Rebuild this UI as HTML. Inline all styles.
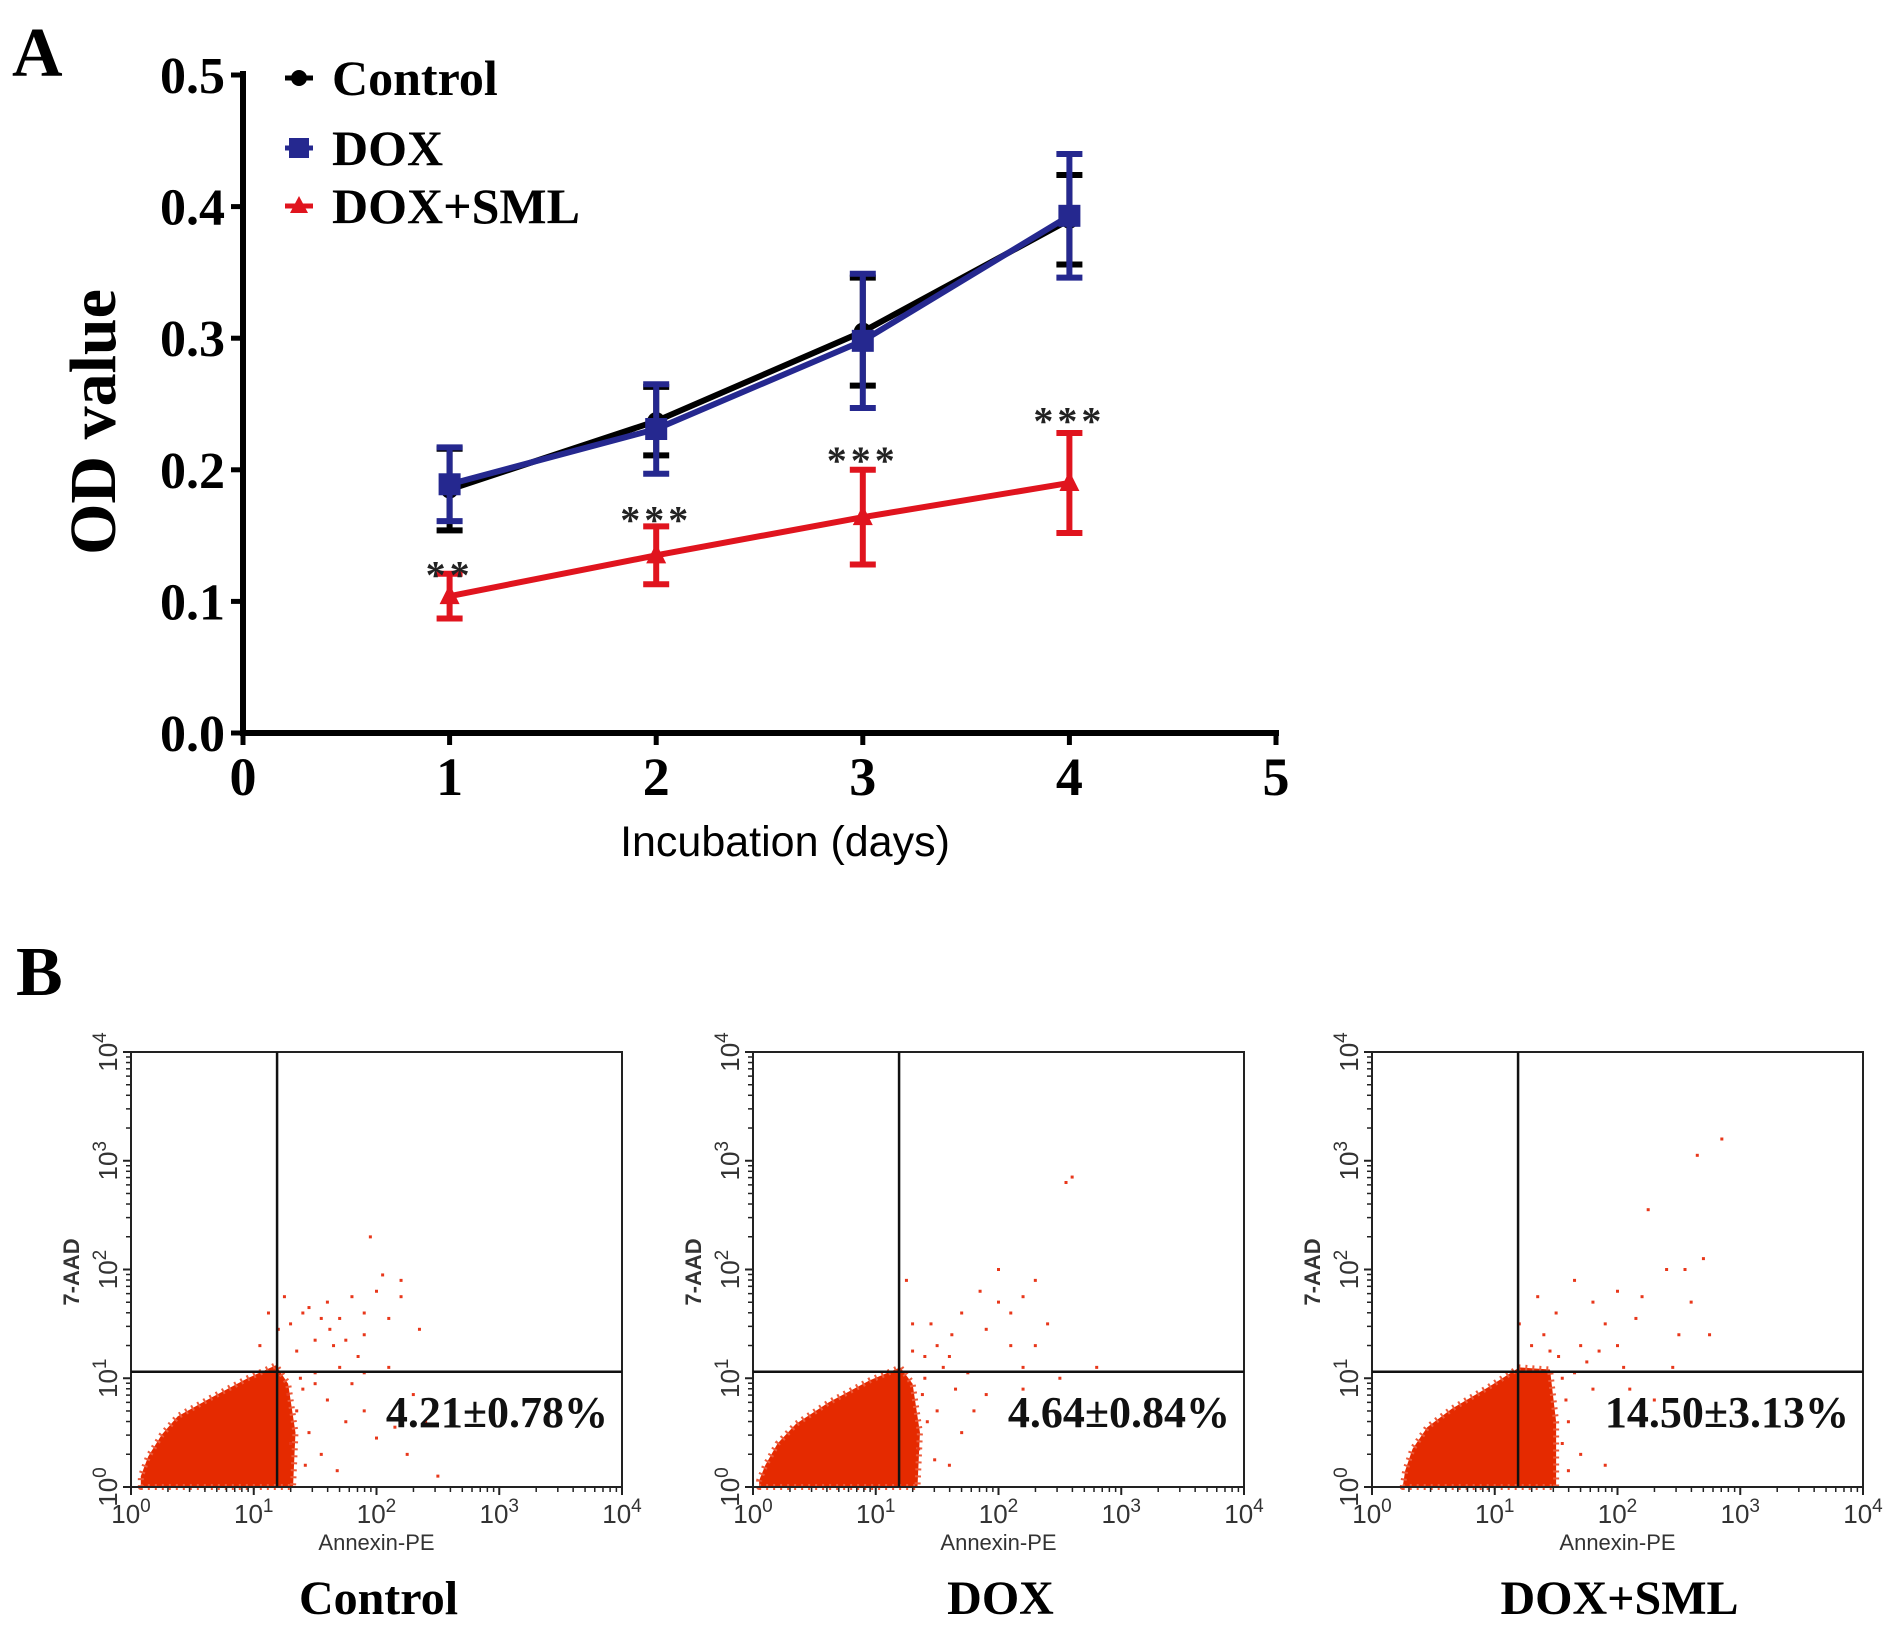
<!DOCTYPE html>
<html><head><meta charset="utf-8"><style>
html,body{margin:0;padding:0;background:#fff}
svg{display:block}
.serif{font-family:"Liberation Serif",serif;font-weight:bold}
.sans{font-family:"Liberation Sans",sans-serif}
</style></head><body>
<svg id="fig" width="1893" height="1629" viewBox="0 0 1893 1629" xmlns="http://www.w3.org/2000/svg">
<text x="12" y="76" class="serif" font-size="70">A</text>
<text x="16" y="995" class="serif" font-size="70">B</text>
<g id="chartA"></g>
<g id="chartB"></g>
</svg>
<script>
const NS="http://www.w3.org/2000/svg";
function mk(tag,attrs,parent,txt){const e=document.createElementNS(NS,tag);for(const k in attrs)e.setAttribute(k,attrs[k]);if(txt!==undefined)e.textContent=txt;parent.appendChild(e);return e;}

// ---- Chart A data ----
const days=[1,2,3,4];
const controlMean=[0.185,0.237,0.305,0.390];
const controlErr=[0.031,0.026,0.041,0.034];
const doxMean=[0.189,0.231,0.298,0.393];
const doxErr=[0.028,0.034,0.051,0.047];
const smlMean=[0.104,0.135,0.164,0.190];
const smlErr=[0.017,0.022,0.036,0.038];
const sigLabels=["**","***","***","***"];
const sigY=[0.128,0.170,0.215,0.245];
const xTicks=[0,1,2,3,4,5];
const yTicks=[0.0,0.1,0.2,0.3,0.4,0.5];

const X0=243,XPU=206.6,Y0=733,YPU=1316;
const xs=v=>X0+v*XPU, ys=v=>Y0-v*YPU;
const A=document.getElementById('chartA');

let ax=mk('line',{x1:X0,y1:ys(0.5)-4,x2:X0,y2:Y0+3,stroke:'#000','stroke-width':6},A);


ax=mk('line',{x1:X0-3,y1:Y0,x2:xs(5)+3,y2:Y0,stroke:'#000','stroke-width':6},A);


yTicks.forEach(t=>{
  mk('line',{x1:X0-12,y1:ys(t),x2:X0,y2:ys(t),stroke:'#000','stroke-width':5},A);
  const l=mk('text',{x:X0-18,y:ys(t)+18,'text-anchor':'end','font-size':52,class:'serif'},A,t.toFixed(1));
  
  
});
xTicks.forEach(t=>{
  mk('line',{x1:xs(t),y1:Y0,x2:xs(t),y2:Y0+12,stroke:'#000','stroke-width':5},A);
  const l=mk('text',{x:xs(t),y:Y0+62,'text-anchor':'middle','font-size':54,class:'serif'},A,String(t));
  
  
});
let t=mk('text',{x:785,y:856,'text-anchor':'middle','font-size':43,class:'sans'},A,'Incubation (days)');


t=mk('text',{x:0,y:0,'text-anchor':'middle','font-size':66,class:'serif',transform:'translate(115,422) rotate(-90)'},A,'OD value');



function series(mean,err,color,name,marker){
  const g=mk('g',{},A);
  
  
  const pts=days.map((d,i)=>xs(d)+','+ys(mean[i])).join(' ');
  const pl=mk('polyline',{points:pts,fill:'none',stroke:color,'stroke-width':6},g);
  
  
  days.forEach((d,i)=>{
    const x=xs(d),y1=ys(mean[i]+err[i]),y2=ys(mean[i]-err[i]);
    const eb=mk('path',{d:`M${x},${y1}V${y2}M${x-13},${y1}H${x+13}M${x-13},${y2}H${x+13}`,stroke:color,'stroke-width':6,fill:'none'},g);
    
    
    let m;
    if(marker==='sq') m=mk('rect',{x:x-11,y:ys(mean[i])-11,width:22,height:22,fill:color},g);
    else if(marker==='tri') m=mk('polygon',{points:`${x},${ys(mean[i])-12} ${x-10},${ys(mean[i])+8} ${x+10},${ys(mean[i])+8}`,fill:color},g);
    else m=mk('circle',{cx:x,cy:ys(mean[i]),r:9,fill:color},g);
    
    
  });
}
series(controlMean,controlErr,'#000','control','circ');
series(doxMean,doxErr,'#25288f','dox','sq');
series(smlMean,smlErr,'#e0141e','dox-sml','tri');
days.forEach((d,i)=>{
  const s=mk('text',{x:xs(d),y:ys(sigY[i])+24,'text-anchor':'middle','font-size':40,class:'serif','font-weight':'normal','letter-spacing':'4',fill:'#222'},A,sigLabels[i]);
  
  
});
// legend
const legend=[["Control","#000","circ",78],["DOX","#25288f","sq",148],["DOX+SML","#e0141e","tri",206]];
legend.forEach(([lab,c,m,y])=>{
  const g=mk('g',{},A);
  
  
  mk('line',{x1:285,y1:y,x2:313,y2:y,stroke:c,'stroke-width':5},g);
  if(m==='sq')mk('rect',{x:289,y:y-10,width:20,height:20,fill:c},g);
  else if(m==='tri')mk('polygon',{points:`299,${y-10} 290,${y+7} 308,${y+7}`,fill:c},g);
  else mk('circle',{cx:299,cy:y,r:8,fill:c},g);
  mk('text',{x:332,y:y+17,'font-size':50,class:'serif'},g,lab);
});

// ---- Panel B data ----
const panelTitles=["Control","DOX","DOX+SML"];
const panelPercents=["4.21±0.78%","4.64±0.84%","14.50±3.13%"];
const panelLefts=[131,753,1372];
const gateX=[1.19,1.19,1.19];
const gateY=[1.06,1.06,1.06];
// dense population outline in log10 coords (x,y)
const blobs=[
 [[0.08,0],[1.32,0],[1.34,0.5],[1.28,0.95],[1.18,1.12],[0.95,1.0],[0.65,0.82],[0.38,0.65],[0.25,0.48],[0.14,0.28],[0.08,0.1]],
 [[0.05,0],[1.34,0],[1.36,0.5],[1.3,0.95],[1.2,1.1],[0.95,0.98],[0.62,0.78],[0.35,0.58],[0.2,0.4],[0.1,0.2],[0.05,0.06]],
 [[0.25,0],[1.5,0],[1.5,0.6],[1.45,1.08],[1.2,1.1],[0.95,0.92],[0.65,0.72],[0.45,0.55],[0.33,0.35],[0.27,0.15]]
];
// sparse events (log10 x, log10 y)
const events=[
 [[1.3,1.5],[1.45,1.65],[1.6,1.7],[1.7,1.55],[1.8,1.75],[1.9,1.6],[2.0,1.8],[2.1,1.55],[1.5,1.35],[1.35,1.25],[1.65,1.3],[1.9,1.4],[2.2,1.9],[1.95,2.3],[2.2,1.75],[1.25,1.75],[1.05,1.3],[1.4,0.9],[1.6,0.8],[1.75,0.6],[1.9,0.7],[2.0,0.45],[2.25,0.3],[2.4,0.6],[1.55,0.3],[1.3,0.4],[1.7,1.1],[2.1,1.1],[2.3,0.85],[1.85,1.2],[1.5,1.05],[2.5,0.1],[1.2,1.45],[1.4,1.6],[2.05,1.95],[1.35,0.7],[1.45,0.5],[1.5,0.95],[1.62,1.45],[1.75,1.35],[1.55,1.55],[1.8,0.95],[1.42,0.2],[1.38,1.0],[1.28,0.85],[2.15,0.55],[1.68,0.15],[1.9,1.05],[2.35,1.45],[1.12,1.6]],
 [[1.3,1.5],[1.5,1.3],[1.7,1.6],[1.85,1.8],[2.0,1.7],[2.2,1.75],[2.3,1.9],[2.6,2.85],[2.55,2.8],[1.9,1.45],[1.6,1.2],[1.4,1.0],[2.1,1.3],[2.4,1.5],[1.5,0.7],[1.7,0.5],[1.9,0.85],[2.2,0.9],[2.5,1.0],[1.35,0.35],[1.6,0.2],[2.1,1.6],[1.25,1.9],[1.75,1.05],[2.0,2.0],[2.3,1.3],[1.45,1.5],[2.8,1.1],[2.2,1.1],[1.8,0.7],[1.42,0.6],[1.38,0.85],[1.55,1.1],[1.65,0.9],[1.48,0.25],[1.4,1.2],[1.3,1.25],[1.62,1.4]],
 [[1.3,1.3],[1.5,1.6],[1.65,1.9],[1.8,1.7],[2.0,1.8],[2.2,1.75],[2.4,2.0],[2.7,2.1],[2.85,3.2],[2.65,3.05],[2.25,2.55],[2.55,2.0],[2.5,1.4],[2.0,1.3],[1.7,1.3],[1.9,1.5],[1.55,1.0],[1.8,0.9],[2.1,0.9],[2.3,0.8],[1.6,0.6],[1.7,0.3],[1.9,0.2],[2.6,1.7],[2.75,1.4],[1.4,1.4],[2.15,1.55],[1.2,1.5],[1.35,1.75],[2.45,1.1],[1.55,0.4],[1.6,0.15],[1.58,0.8],[1.65,1.05],[1.75,1.15],[1.52,1.2],[1.45,1.25],[1.85,1.25],[2.05,1.1]]
];
const xTickLabels=["0","1","2","3","4"];
const B=document.getElementById('chartB');
const W=491,H=435,TOP=1052,DX=W/4,DY=H/4;
panelLefts.forEach((L,p)=>{
  const g=mk('g',{},B);
  
  
  const px=v=>L+v*DX, py=v=>TOP+H-v*DY;
  const blob=mk('polygon',{points:blobs[p].map(q=>px(q[0])+','+py(q[1])).join(' '),fill:'#e52a00','stroke':'#ec5a3a','stroke-width':6,'stroke-dasharray':'2 5','stroke-linejoin':'round'},g);
  
  
  events[p].forEach(q=>{
    const d=mk('rect',{x:px(q[0])-1.5,y:py(q[1])-1.5,width:3,height:3,fill:'#e8371a'},g);
    
    
  });
  const box=mk('rect',{x:L,y:TOP,width:W,height:H,fill:'none',stroke:'#222','stroke-width':2},g);
  
  
  const gv=mk('line',{x1:px(gateX[p]),y1:TOP,x2:px(gateX[p]),y2:TOP+H,stroke:'#111','stroke-width':2.5},g);
  
  
  const gh=mk('line',{x1:L,y1:py(gateY[p]),x2:L+W,y2:py(gateY[p]),stroke:'#111','stroke-width':2.5},g);
  
  
  for(let k=0;k<=4;k++){
    mk('line',{x1:px(k),y1:TOP+H,x2:px(k),y2:TOP+H+8,stroke:'#222','stroke-width':2},g);
    mk('line',{x1:L-8,y1:py(k),x2:L,y2:py(k),stroke:'#222','stroke-width':2},g);
    if(k<4)for(let m=2;m<10;m++){const o=Math.log10(m);
      mk('line',{x1:px(k+o),y1:TOP+H,x2:px(k+o),y2:TOP+H+5,stroke:'#222','stroke-width':1.5},g);
      mk('line',{x1:L-5,y1:py(k+o),x2:L,y2:py(k+o),stroke:'#222','stroke-width':1.5},g);}
    const xl=mk('text',{x:px(k),y:TOP+H+36,'text-anchor':'middle','font-size':26,class:'sans',fill:'#333'},g);
    
    
    xl.appendChild(document.createTextNode('10'));
    mk('tspan',{dy:-11,'font-size':19},xl,xTickLabels[k]);
    const yl=mk('text',{x:0,y:0,'text-anchor':'middle','font-size':26,class:'sans',fill:'#333',transform:`translate(${L-14},${py(k)}) rotate(-90)`},g);
    
    
    yl.appendChild(document.createTextNode('10'));
    mk('tspan',{dy:-11,'font-size':19},yl,xTickLabels[k]);
  }
  let tx=mk('text',{x:L+W/2,y:TOP+H+63,'text-anchor':'middle','font-size':22,class:'sans',fill:'#333'},g,'Annexin-PE');
  
  
  tx=mk('text',{x:0,y:0,'text-anchor':'middle','font-size':22,class:'sans','font-weight':'bold',fill:'#333',transform:`translate(${L-52},${TOP+220}) rotate(-90)`},g,'7-AAD');
  
  
  tx=mk('text',{x:L+W-14,y:TOP+375,'text-anchor':'end','font-size':44,class:'serif',fill:'#111'},g,panelPercents[p]);
  
  
  tx=mk('text',{x:L+W/2+2,y:1614,'text-anchor':'middle','font-size':48,class:'serif'},g,panelTitles[p]);
  
  
});
</script>
</body></html>
